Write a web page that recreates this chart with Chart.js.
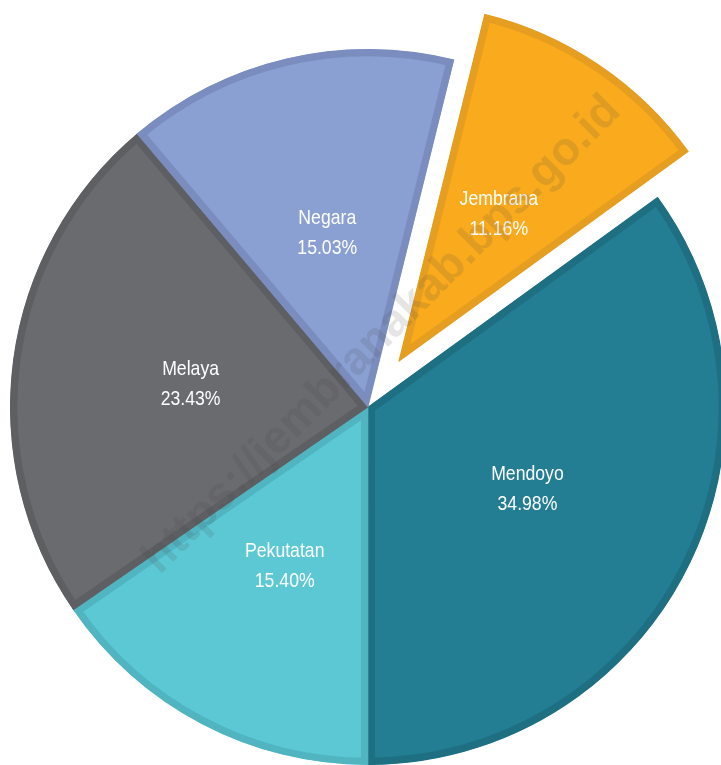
<!DOCTYPE html>
<html>
<head>
<meta charset="utf-8">
<script src="https://cdn.jsdelivr.net/npm/chart.js@4/dist/chart.umd.min.js"></script>
<style>
  html, body { margin: 0; padding: 0; background: #fff; overflow: hidden; }
  #wrap { position: absolute; left: 0; top: 0; width: 736px; height: 814px; }
</style>
</head>
<body>
<div id="wrap"><canvas id="myChart"></canvas></div>
<script>
const labels = ['Jembrana', 'Mendoyo', 'Pekutatan', 'Melaya', 'Negara'];
const values = [11.16, 34.98, 15.40, 23.43, 15.03];
const fills = ['#F9AA1D', '#237D93', '#5CC8D4', '#6A6B6F', '#8A9FD2'];
const borders = ['#E59E1F', '#1F6F82', '#50B5C1', '#5E5F62', '#7B8DBF'];
const explode = [55, 0, 0, 0, 0];

const sliceLabels = {
    id: 'sliceLabels',
    afterUpdate(chart) {
        // pull slices out from the centre
        const meta = chart.getDatasetMeta(0);
        meta.data.forEach(function (arc, i) {
            if (!explode[i]) return;
            const mid = (arc.startAngle + arc.endAngle) / 2;
            arc.x += Math.cos(mid) * explode[i];
            arc.y += Math.sin(mid) * explode[i];
        });
    },
    afterDatasetsDraw(chart) {
        const ctx = chart.ctx;
        const meta = chart.getDatasetMeta(0);
        meta.data.forEach(function (arc, i) {
            const mid = (arc.startAngle + arc.endAngle) / 2;
            const r = arc.outerRadius * 0.5;
            const x = arc.x + Math.cos(mid) * r;
            const y = arc.y + Math.sin(mid) * r;
            ctx.save();
            ctx.translate(x, y);
            ctx.scale(0.84, 1); // narrow look
            ctx.fillStyle = '#ffffff';
            ctx.textAlign = 'center';
            ctx.textBaseline = 'middle';
            ctx.font = '21px "Liberation Sans", Arial, sans-serif';
            ctx.fillText(labels[i], 0, -14);
            ctx.fillText(values[i].toFixed(2) + '%', 0, 16);
            ctx.restore();
        });
    },
    afterDraw(chart) {
        // watermark
        const ctx = chart.ctx;
        ctx.save();
        ctx.translate(382, 335);
        ctx.rotate(-Math.PI / 4);
        ctx.font = 'bold 46px "Liberation Sans", Arial, sans-serif';
        ctx.fillStyle = 'rgba(70,70,70,0.14)';
        ctx.textAlign = 'center';
        ctx.textBaseline = 'middle';
        ctx.fillText('https://jembranakab.bps.go.id', 0, 0);
        ctx.restore();
    }
};

new Chart(document.getElementById('myChart'), {
    type: 'pie',
    data: {
        labels: labels,
        datasets: [{
            data: values,
            backgroundColor: fills,
            borderColor: borders,
            borderWidth: 7,
            borderAlign: 'inner'
        }]
    },
    options: {
        responsive: true,
        maintainAspectRatio: false,
        animation: false,
        events: [],
        rotation: 13.9,
        radius: 358,
        layout: { padding: 0 },
        plugins: {
            legend: { display: false },
            tooltip: { enabled: false }
        }
    },
    plugins: [sliceLabels]
});
</script>
</body>
</html>
